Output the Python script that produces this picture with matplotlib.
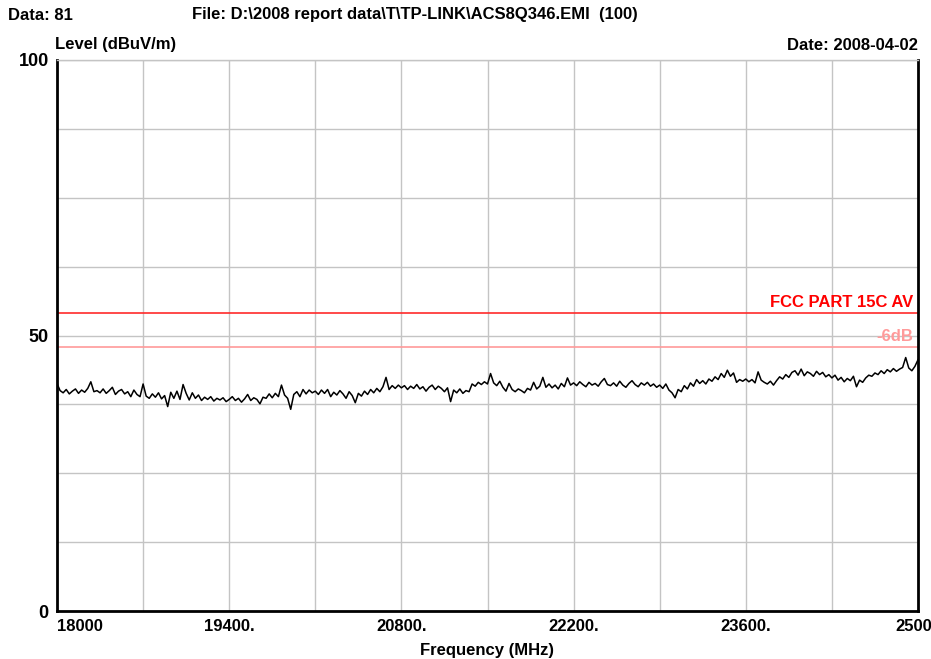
import matplotlib
matplotlib.use("Agg")
import matplotlib.pyplot as plt
import numpy as np

# ── Data ──────────────────────────────────────────────────────────────────────
freq_start = 18000
freq_step = 25
level = [
    41.3, 40.0, 39.6, 40.2, 39.4, 39.9, 40.3, 39.5, 40.1, 39.7, 40.4, 41.6, 39.8, 40.0,
    39.6, 40.3, 39.5, 40.0, 40.6, 39.3, 39.9, 40.2, 39.4, 39.8, 38.9, 40.1, 39.3, 38.9,
    41.2, 39.0, 38.6, 39.4, 38.8, 39.6, 38.5, 39.1, 37.1, 39.7, 38.6, 39.9, 38.4, 41.1,
    39.5, 38.3, 39.6, 38.6, 39.2, 38.2, 38.8, 38.4, 38.9, 38.1, 38.6, 38.3, 38.7, 38.0,
    38.4, 38.9, 38.2, 38.6, 37.9, 38.5, 39.3, 38.2, 38.7, 38.4, 37.6, 38.8, 38.6, 39.4,
    38.7, 39.5, 38.9, 41.0, 39.2, 38.6, 36.6, 39.3, 39.8, 38.9, 40.2, 39.4, 40.1, 39.6,
    39.9, 39.3, 40.1, 39.5, 40.2, 38.9, 39.7, 39.2, 40.0, 39.4, 38.6, 39.8, 39.1, 37.8,
    39.5, 39.0, 39.9, 39.3, 40.2, 39.6, 40.4, 39.8, 40.7, 42.4, 40.2, 40.9, 40.4, 41.0,
    40.5, 40.9, 40.2, 40.8, 40.4, 41.1, 40.3, 40.7, 39.9, 40.6, 41.0, 40.2, 40.8, 40.4,
    39.8, 40.5, 38.0, 40.1, 39.6, 40.3, 39.5, 40.0, 39.8, 41.2, 40.8, 41.5, 41.1, 41.6,
    41.2, 43.1, 41.4, 40.9, 41.7, 40.6, 39.9, 41.3, 40.2, 39.8, 40.3, 40.0, 39.6, 40.4,
    40.1, 41.5, 40.3, 40.8, 42.4, 40.6, 41.2, 40.5, 41.0, 40.3, 41.3, 40.7, 42.3, 41.0,
    41.4, 40.9, 41.6, 41.1, 40.7, 41.5, 41.0, 41.3, 40.8, 41.6, 42.2, 41.1, 40.9, 41.4,
    40.8, 41.7, 41.0, 40.6, 41.3, 41.8, 41.1, 40.7, 41.4, 41.0, 41.5, 40.8, 41.2, 40.6,
    41.0, 40.4, 41.2, 40.1, 39.6, 38.7, 40.2, 39.8, 40.9, 40.3, 41.4, 40.8, 42.0, 41.3,
    41.8, 41.2, 42.1, 41.7, 42.5, 42.0, 43.1, 42.4, 43.7, 42.6, 43.2, 41.5, 42.0, 41.7,
    42.1, 41.6, 42.0, 41.4, 43.4, 41.9, 41.5, 41.2, 41.7, 41.0, 41.8, 42.5, 42.1, 42.9,
    42.4, 43.3, 43.6, 42.8, 43.9, 42.7, 43.4, 43.1, 42.6, 43.5, 42.9, 43.3, 42.5, 42.9,
    42.3, 42.8, 41.9, 42.4, 41.6, 42.2, 41.8, 42.6, 40.7, 41.9, 41.5, 42.3, 42.8, 42.6,
    43.2, 42.9, 43.6, 43.1, 43.8, 43.4, 44.0, 43.5, 43.9, 44.2, 46.0, 44.1, 43.6, 44.4,
    45.6,
]
freq = freq_start + freq_step * np.arange(len(level))

limit_av = 54.0
limit_margin = 48.0

x_ticks = [18000, 19400, 20800, 22200, 23600, 25000]
x_tick_labels = ["18000", "19400.", "20800.", "22200.", "23600.", "25000"]
y_ticks = [0, 50, 100]

plt.rcParams["font.family"] = ["Liberation Sans", "DejaVu Sans"]
plt.rcParams["font.weight"] = "bold"

# ── Plot ──────────────────────────────────────────────────────────────────────
fig = plt.figure(figsize=(9.31, 6.59), dpi=100)
ax = fig.add_axes([57 / 931, 1 - 611 / 659, (918 - 57) / 931, (611 - 60) / 659])

ax.set_xlim(18000, 25000)
ax.set_ylim(0, 100)

# grid
for gx in np.arange(18700, 25000, 700):
    ax.axvline(gx, color="#c4c4c4", lw=1.0, zorder=1)
for gy in np.arange(12.5, 100.1, 12.5):
    ax.axhline(gy, color="#c4c4c4", lw=1.0, zorder=1)

ax.axhline(limit_av, color="#ff2a2a", lw=1.2, zorder=2)
ax.axhline(limit_margin, color="#ff9a9a", lw=1.2, zorder=2)
ax.plot(freq, level, color="black", lw=1.1, zorder=3)

ax.text(24960, limit_av + 0.6, "FCC PART 15C AV", color="#ff0000",
        fontsize=12, ha="right", va="bottom")
ax.text(24960, limit_margin + 0.5, "-6dB", color="#ff9a9a",
        fontsize=12, ha="right", va="bottom")

for side in ["left", "bottom", "right"]:
    ax.spines[side].set_linewidth(2.0)
    ax.spines[side].set_color("black")
ax.spines["top"].set_color("#c4c4c4")
ax.spines["top"].set_linewidth(1.0)

ax.set_xticks(x_ticks)
ax.set_xticklabels(x_tick_labels, fontsize=12)
ax.get_xticklabels()[0].set_horizontalalignment("left")
ax.set_yticks(y_ticks)
ax.set_yticklabels([str(v) for v in y_ticks], fontsize=13)
ax.tick_params(length=0, pad=6)
ax.set_xlabel("Frequency (MHz)", fontsize=12, fontweight="bold", labelpad=6)

fig.text(8 / 931, 1 - 15 / 659, "Data: 81", fontsize=12, va="center")
fig.text(192 / 931, 1 - 15 / 659,
         "File: D:\\2008 report data\\T\\TP-LINK\\ACS8Q346.EMI  (100)",
         fontsize=12, va="center")
fig.text(55 / 931, 1 - 45 / 659, "Level (dBuV/m)", fontsize=12, va="center")
fig.text(918 / 931, 1 - 45 / 659, "Date: 2008-04-02", fontsize=12,
         va="center", ha="right")

fig.savefig("out.png", dpi=100)
